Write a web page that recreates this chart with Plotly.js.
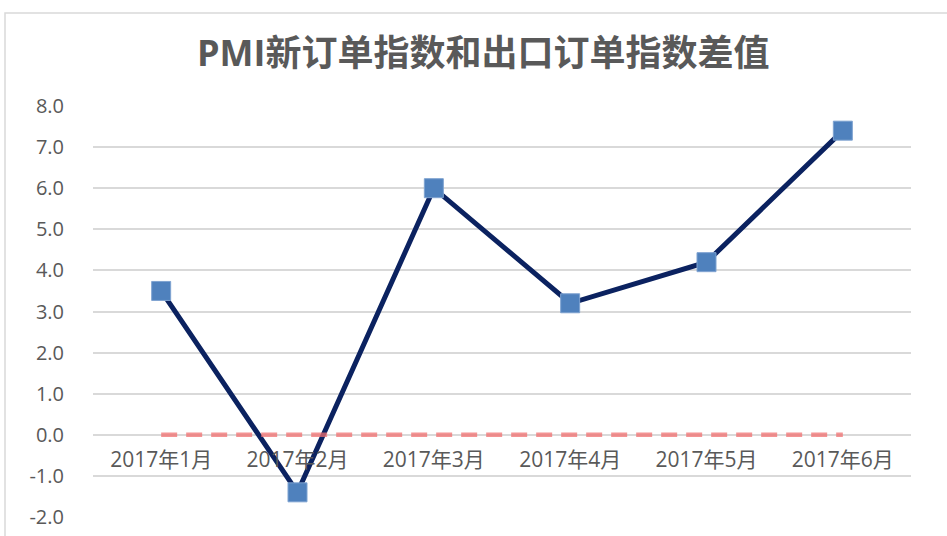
<!DOCTYPE html>
<html>
<head>
<meta charset="utf-8">
<script src="https://cdn.plot.ly/plotly-3.0.1.min.js"></script>
<style>
html,body{margin:0;padding:0;background:#fff;}
#chart{width:947px;height:536px;}
</style>
</head>
<body>
<div id="chart"></div>
<script>
const chartTitle = "PMI新订单指数和出口订单指数差值";
const categories = ["2017年1月", "2017年2月", "2017年3月", "2017年4月", "2017年5月", "2017年6月"];
const diffValues = [3.5, -1.4, 6.0, 3.2, 4.2, 7.4];
const zeroRef = [0, 0, 0, 0, 0, 0];
const yTicks = [-2, -1, 0, 1, 2, 3, 4, 5, 6, 7, 8];
const yTickText = ["-2.0", "-1.0", "0.0", "1.0", "2.0", "3.0", "4.0", "5.0", "6.0", "7.0", "8.0"];

const fontFam = "'Open Sans', 'Noto Sans CJK SC', sans-serif";

const traces = [
  {
    x: categories, y: diffValues, type: "scatter", mode: "lines+markers",
    line: {color: "#0B2260", width: 5},
    marker: {symbol: "square", size: 19, color: "#4F81BD", line: {color: "#7FA3D1", width: 1}},
    hoverinfo: "x+y", showlegend: false
  },
  {
    x: categories, y: zeroRef, type: "scatter", mode: "lines",
    line: {color: "rgba(240,112,112,0.75)", width: 4.5, dash: "16px,9px"},
    hoverinfo: "skip", showlegend: false
  }
];

const layout = {
  width: 947, height: 536,
  margin: {l: 93, r: 36, t: 106, b: 19},
  paper_bgcolor: "#ffffff", plot_bgcolor: "#ffffff",
  font: {family: fontFam, color: "#595959"},
  title: {
    text: chartTitle,
    font: {family: fontFam, size: 36, color: "#595959", weight: "bold"},
    x: 0.477, xref: "paper", xanchor: "center",
    y: 51, yref: "container", yanchor: "middle"
  },
  xaxis: {
    type: "category",
    anchor: "free", position: 0.2,
    showgrid: false, zeroline: false, showline: false,
    ticks: "", tickfont: {size: 21, color: "#595959", family: fontFam},
    ticklabelstandoff: 10,
    range: [-0.5, 5.5]
  },
  yaxis: {
    range: [-2, 8],
    tickvals: yTicks, ticktext: yTickText,
    showgrid: true, gridcolor: "#D9D9D9", gridwidth: 2,
    zeroline: false, showline: false, ticks: "",
    tickfont: {size: 20, color: "#595959", family: fontFam},
    ticklabelstandoff: 28
  },
  shapes: [
    {type: "rect", xref: "paper", yref: "paper",
     x0: (5 - 93) / 818, x1: (1000 - 93) / 818,
     y0: (517 - 600) / 411, y1: (517 - 13) / 411,
     line: {color: "#D9D9D9", width: 1.5}, fillcolor: "rgba(0,0,0,0)", layer: "below"}
  ]
};

Plotly.newPlot("chart", traces, layout, {displayModeBar: false, staticPlot: true});
</script>
</body>
</html>
